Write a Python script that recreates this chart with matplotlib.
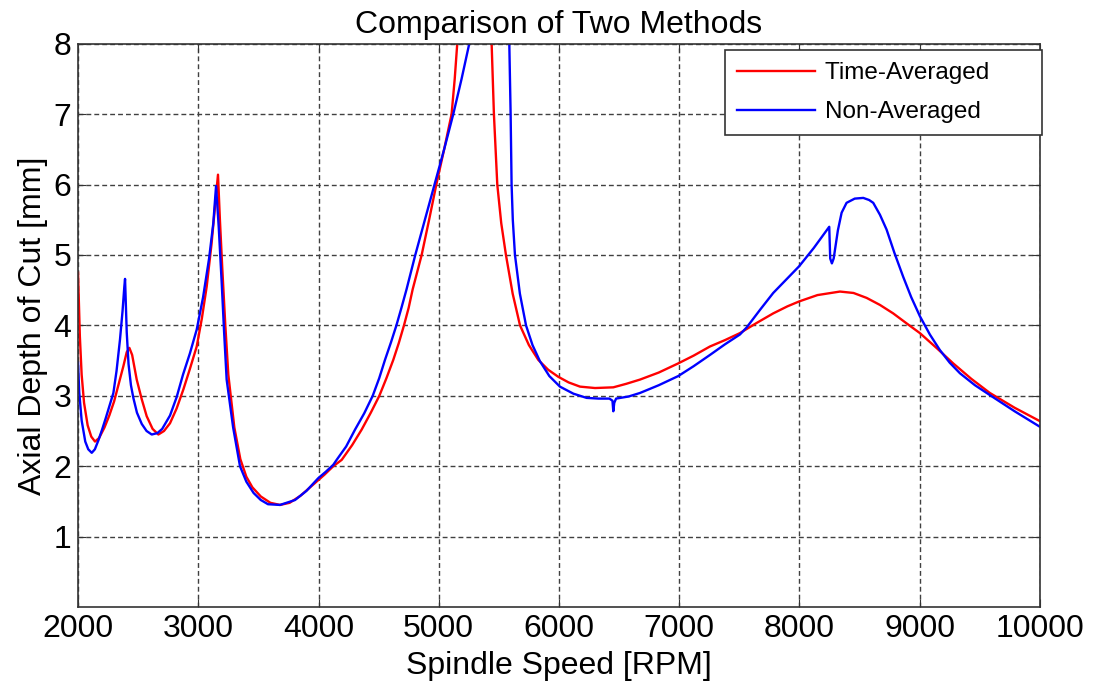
import matplotlib.pyplot as plt
import numpy as np

plt.rcParams['font.family'] = ['Liberation Sans', 'DejaVu Sans']

# Time-Averaged (red)
rpm_avg = [2000, 2005, 2015, 2030, 2050, 2080, 2110, 2141, 2175, 2220, 2260, 2300,
           2340, 2377, 2405, 2427, 2450, 2488, 2530, 2571, 2620, 2668, 2715, 2765,
           2820, 2876, 2930, 2987, 3030, 3070, 3110, 3140, 3164, 3180, 3200, 3225,
           3250, 3300, 3350, 3400, 3450, 3520, 3600, 3680, 3760, 3850, 3950, 4050,
           4123, 4193, 4280, 4359, 4435, 4506, 4565, 4622, 4668, 4711, 4750, 4783,
           4858, 4920, 4980, 5045, 5107, 5133, 5154, 5200, 5300, 5400, 5440, 5459,
           5487, 5520, 5559, 5615, 5676, 5750, 5828, 5910, 5994, 6080, 6175, 6300,
           6452, 6560, 6674, 6830, 6992, 7120, 7256, 7380, 7505, 7640, 7782, 7900,
           7998, 8150, 8337, 8450, 8559, 8670, 8780, 8890, 9002, 9140, 9279, 9430,
           9584, 9790, 10000]
depth_avg = [4.75, 4.45, 3.85, 3.30, 2.90, 2.58, 2.42, 2.35, 2.40, 2.55, 2.72, 2.92,
             3.18, 3.42, 3.62, 3.68, 3.58, 3.23, 2.95, 2.71, 2.53, 2.45, 2.50, 2.61,
             2.82, 3.09, 3.38, 3.70, 4.10, 4.55, 5.15, 5.70, 6.14, 5.50, 4.80, 4.00,
             3.30, 2.55, 2.10, 1.85, 1.70, 1.57, 1.48, 1.45, 1.48, 1.58, 1.73, 1.88,
             2.00, 2.09, 2.30, 2.52, 2.76, 3.00, 3.25, 3.51, 3.75, 4.00, 4.25, 4.51,
             5.00, 5.50, 6.00, 6.50, 7.00, 7.50, 8.00, 9.30, 10.5, 9.30, 8.00, 7.00,
             6.00, 5.45, 5.00, 4.45, 4.00, 3.72, 3.51, 3.37, 3.27, 3.19, 3.13, 3.11,
             3.12, 3.17, 3.23, 3.33, 3.46, 3.57, 3.70, 3.79, 3.89, 4.03, 4.17, 4.27,
             4.34, 4.43, 4.48, 4.46, 4.39, 4.29, 4.17, 4.03, 3.89, 3.68, 3.46, 3.24,
             3.04, 2.83, 2.64]

# Non-Averaged (blue)
rpm_non = [2000, 2010, 2030, 2060, 2085, 2114, 2140, 2170, 2200, 2230, 2260, 2294,
           2320, 2349, 2370, 2385, 2391, 2397, 2405, 2420, 2440, 2460, 2490, 2530,
           2570, 2613, 2660, 2700, 2765, 2820, 2873, 2930, 2987, 3040, 3090, 3125,
           3148, 3170, 3195, 3215, 3236, 3290, 3347, 3400, 3460, 3520, 3580, 3680,
           3805, 3900, 3998, 4060, 4123, 4151, 4230, 4304, 4380, 4451, 4505, 4553,
           4603, 4648, 4690, 4732, 4805, 4885, 4965, 5045, 5121, 5190, 5254, 5330,
           5420, 5500, 5587, 5598, 5606, 5616, 5634, 5675, 5726, 5780, 5842, 5920,
           6008, 6120, 6230, 6330, 6420, 6445, 6452, 6460, 6475, 6580, 6674, 6830,
           6992, 7120, 7256, 7380, 7505, 7561, 7672, 7782, 7890, 7998, 8120, 8248,
           8256, 8270, 8285, 8320, 8351, 8392, 8460, 8531, 8580, 8614, 8670, 8725,
           8790, 8863, 8930, 9002, 9085, 9168, 9250, 9335, 9460, 9584, 9790, 10000]
depth_non = [3.47, 3.05, 2.65, 2.35, 2.24, 2.19, 2.24, 2.37, 2.52, 2.68, 2.85, 3.04,
             3.35, 3.80, 4.20, 4.55, 4.66, 4.35, 3.90, 3.45, 3.15, 2.97, 2.76, 2.60,
             2.50, 2.45, 2.47, 2.53, 2.72, 2.98, 3.30, 3.60, 3.94, 4.40, 4.95, 5.45,
             5.98, 5.40, 4.60, 3.90, 3.23, 2.55, 2.00, 1.78, 1.62, 1.52, 1.46, 1.45,
             1.52, 1.65, 1.83, 1.92, 2.02, 2.09, 2.28, 2.52, 2.75, 3.00, 3.25, 3.51,
             3.76, 4.00, 4.25, 4.51, 5.00, 5.50, 6.00, 6.50, 7.00, 7.50, 8.00, 9.50,
             11.0, 10.0, 8.00, 7.00, 6.00, 5.50, 5.00, 4.45, 4.00, 3.72, 3.49, 3.28,
             3.13, 3.03, 2.97, 2.96, 2.96, 2.93, 2.78, 2.90, 2.96, 2.99, 3.04, 3.15,
             3.28, 3.42, 3.58, 3.73, 3.87, 3.97, 4.22, 4.46, 4.65, 4.84, 5.10, 5.40,
             4.95, 4.88, 4.95, 5.35, 5.60, 5.74, 5.80, 5.81, 5.78, 5.74, 5.57, 5.36,
             5.03, 4.69, 4.40, 4.13, 3.87, 3.65, 3.47, 3.32, 3.15, 3.01, 2.78, 2.56]

fig = plt.figure(figsize=(10.93, 6.87), dpi=100)
ax = fig.add_axes([0.0714, 0.1164, 0.88, 0.82])

ax.plot(rpm_avg, depth_avg, color='#ff0000', lw=1.7, label='Time-Averaged' + ' ' * 6)
ax.plot(rpm_non, depth_non, color='#0000ff', lw=1.7, label='Non-Averaged')

ax.set_xlim(2000, 10000)
ax.set_ylim(0, 8)
ax.set_xticks(np.arange(2000, 10001, 1000))
ax.set_yticks(np.arange(1, 9))
ax.tick_params(direction='in', labelsize=23, length=6, top=True, right=True,
               color='#333333', pad=5)
ax.grid(True, color='#404040', linestyle=(0, (3.5, 2.2)), linewidth=1.0)
for s in ax.spines.values():
    s.set_color('#333333')
    s.set_linewidth(1.2)

ax.set_title('Comparison of Two Methods', fontsize=23, pad=8)
ax.set_xlabel('Spindle Speed [RPM]', fontsize=23, labelpad=5)
ax.set_ylabel('Axial Depth of Cut [mm]', fontsize=23, labelpad=4)

leg = ax.legend(loc='upper right', fontsize=17.5, fancybox=False, framealpha=1,
                edgecolor='#333333', handlelength=3.2, handletextpad=0.4,
                borderpad=0.5, labelspacing=0.7, borderaxespad=0,
                bbox_to_anchor=(1.002, 0.989))
leg.get_frame().set_linewidth(1.2)

plt.savefig('out.png', dpi=100)
